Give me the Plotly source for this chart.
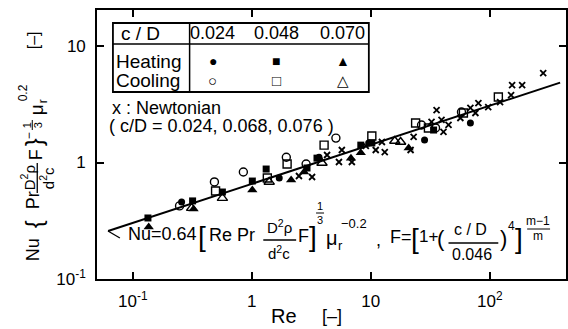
import plotly.graph_objects as go

# ---------------- data ----------------
heat_024_re = [0.257, 1.70, 3.67, 9.6, 28.3, 68.7]
heat_024_nu = [0.458, 0.736, 1.11, 1.47, 1.56, 2.18]

heat_048_re = [0.134, 0.318, 0.566, 1.01, 1.32, 2.91, 3.53, 8.24, 10.2, 33.7]
heat_048_nu = [0.334, 0.468, 0.558, 0.693, 0.879, 0.897, 1.09, 1.41, 1.47, 1.90]

heat_070_re = [0.136, 0.324, 1.01, 2.14, 2.75, 6.81, 8.24, 20.8]
heat_070_nu = [0.279, 0.399, 0.581, 0.708, 0.828, 1.09, 1.21, 1.33]

cool_024_re = [0.247, 0.485, 0.849, 1.95, 2.86, 5.09, 26.7, 35.0, 57.8]
cool_024_nu = [0.424, 0.681, 0.828, 1.11, 0.971, 1.62, 2.10, 1.98, 2.71]

cool_048_re = [0.496, 1.35, 1.98, 4.05, 10.2, 23.8, 30.5, 60.0, 118]
cool_048_nu = [0.569, 0.736, 0.971, 1.41, 1.69, 2.18, 1.98, 2.66, 3.65]

cool_070_re = [0.312, 0.566, 1.40, 3.89, 15.9, 17.8]
cool_070_nu = [0.406, 0.495, 0.681, 0.99, 1.53, 1.50]

newt_re = [2.49, 3.21, 4.29, 5.40, 5.71, 6.93, 9.08, 11.0, 12.4, 13.1, 21.6, 22.9,
           32.4, 35.7, 39.3, 40.8, 45.0, 56.6, 68.7, 75.7, 80.2, 97.0, 122, 151,
           154, 187, 281]
newt_nu = [0.766, 0.751, 1.16, 1.01, 1.28, 1.01, 1.39, 1.28, 1.50, 1.23, 1.28, 1.66,
           2.23, 2.82, 2.32, 1.83, 2.10, 2.41, 2.94, 2.66, 3.24, 2.99, 3.30, 3.79,
           4.62, 4.62, 5.86]

fit_re = [0.062, 390]
fit_nu = [0.258, 4.85]

x_tickvals = [0.1, 1, 10, 100]
x_ticktext = ["10<sup>-1</sup>", "1", "10", "10<sup>2</sup>"]
y_tickvals = [0.1, 1, 10]
y_ticktext = ["10<sup>-1</sup>", "1", "10"]

table_header = ["c / D", "0.024", "0.048", "0.070"]
row_labels = ["Heating", "Cooling"]
heat_symbols = ["●", "■", "▲"]
cool_symbols = ["○", "□", "△"]

# ---------------- layout geometry ----------------
W, H = 568, 329
L, R, T, B = 97, 0, 10, 50
PW, PH = W - L - R, H - T - B
FONT = "Liberation Sans"


def P(px, py):
    return (px - L) / PW, (H - B - py) / PH


fig = go.Figure()

fig.add_trace(go.Scatter(x=fit_re, y=fit_nu, mode="lines",
                         line=dict(color="black", width=2), showlegend=False))

def add_pts(xs, ys, symbol, size, lw=1.4):
    fig.add_trace(go.Scatter(
        x=xs, y=ys, mode="markers", showlegend=False,
        marker=dict(symbol=symbol, size=size, color="black",
                    line=dict(color="black", width=lw))))

add_pts(newt_re, newt_nu, "x-thin", 6, 1.8)
add_pts(cool_024_re, cool_024_nu, "circle-open", 8)
add_pts(cool_048_re, cool_048_nu, "square-open", 8)
add_pts(cool_070_re, cool_070_nu, "triangle-up-open", 9)
add_pts(heat_024_re, heat_024_nu, "circle", 7, 0)
add_pts(heat_048_re, heat_048_nu, "square", 7, 0)
add_pts(heat_070_re, heat_070_nu, "triangle-up", 9, 0)

ann = []
shapes = []


def txt(px, py, s, size=17, anchor="left", angle=0):
    x, y = P(px, py)
    ann.append(dict(x=x, y=y, xref="paper", yref="paper", text=s, showarrow=False,
                    xanchor=anchor, yanchor="middle", textangle=angle, borderpad=0,
                    font=dict(family=FONT, size=size, color="black")))


def seg(x0, y0, x1, y1, w=1.3):
    a, b = P(x0, y0)
    c, d = P(x1, y1)
    shapes.append(dict(type="line", xref="paper", yref="paper", x0=a, y0=b, x1=c, y1=d,
                       line=dict(color="black", width=w)))


# ---- table ----
a, b = P(113, 23)
c, d = P(370, 92)
shapes.append(dict(type="rect", xref="paper", yref="paper", x0=a, y0=d, x1=c, y1=b,
                   line=dict(color="black", width=1.8), fillcolor="white", layer="above"))
seg(113, 44, 370, 44, 1.5)
seg(190, 23, 190, 92, 1.5)
col_x = [152, 213, 277, 344]
txt(141, 33, table_header[0], 19, "center")
for i in range(1, 4):
    txt(col_x[i], 33, table_header[i], 18, "center")
txt(115, 61, row_labels[0], 19)
txt(115, 81, row_labels[1], 19)
for i in range(3):
    txt(col_x[i + 1], 61, heat_symbols[i], 14, "center")
    txt(col_x[i + 1], 81, cool_symbols[i], 15, "center")

txt(111, 108, "x : Newtonian", 18)
txt(108, 126, "( c/D = 0.024, 0.068, 0.076 )", 18)

# ---- correlation formula ----
seg(108, 231, 120, 238, 1.3)
txt(127, 234, "Nu=0.64", 18)
txt(197, 236, "[", 28)
txt(208, 235, "Re Pr", 18)
txt(280, 226, "D<sup>2</sup>ρ", 15, "center")
seg(264, 240, 297, 240)
txt(280, 252, "d<sup>2</sup>c", 15, "center")
txt(298, 236, "F", 18)
txt(309, 236, "]", 28)
txt(321, 206, "1", 11, "center")
seg(317, 213, 325, 213, 1)
txt(321, 220, "3", 11, "center")
txt(326, 238, "μ", 20)
txt(338, 246, "r", 13)
txt(341, 223, "−0.2", 13)
txt(376, 240, ",", 18)
txt(390, 237, "F=", 18)
txt(411, 238, "[", 28)
txt(419, 237, "1+", 17)
txt(437, 238, "(", 22)
txt(472, 229, "c / D", 16, "center")
seg(450, 243, 500, 243)
txt(474, 254, "0.046", 16, "center")
txt(501, 238, ")", 22)
txt(509, 226, "4", 12)
txt(516, 238, "]", 28)
txt(540, 221, "m−1", 12, "center")
seg(529, 229, 552, 229, 1)
txt(540, 236, "m", 12, "center")

# ---- axis titles ----
txt(271, 316, "Re", 20)
txt(322, 316, "[–]", 18)

txt(33, 250, "Nu", 18, "center", -90)
txt(33, 224, "{", 24, "center", -90)
txt(33, 200, "Pr", 18, "center", -90)
txt(27, 178, "D<sup>2</sup>ρ", 15, "center", -90)
seg(37, 163, 37, 193)
txt(46, 178, "d<sup>2</sup>c", 15, "center", -90)
txt(36, 155, "F", 18, "center", -90)
txt(33, 142, "}", 24, "center", -90)
txt(29, 136, "−", 12, "center", -90)
txt(27, 125, "1", 11, "center", -90)
seg(32, 120, 32, 130, 1)
txt(38, 125, "3", 11, "center", -90)
txt(36, 110, "μ", 19, "center", -90)
txt(43, 101, "r", 12, "center", -90)
txt(23, 93, "0.2", 12, "center", -90)
txt(33, 40, "[–]", 16, "center", -90)

axis_common = dict(type="log", showgrid=False, zeroline=False, showline=True,
                   linecolor="black", linewidth=1.6, mirror="ticks", ticks="inside",
                   ticklen=7, tickwidth=1.5, tickcolor="black",
                   tickfont=dict(family=FONT, size=17, color="black"))

fig.update_layout(
    width=W, height=H, margin=dict(l=L, r=R, t=T, b=B),
    paper_bgcolor="white", plot_bgcolor="white",
    xaxis=dict(range=[-1.301, -1.301 + PW / 119.5], tickvals=x_tickvals,
               ticktext=x_ticktext, ticklabelstandoff=6, **axis_common),
    yaxis=dict(range=[-1, -1 + PH / 116.5], tickvals=y_tickvals,
               ticktext=y_ticktext, ticklabelstandoff=6, **axis_common),
    annotations=ann, shapes=shapes, showlegend=False,
)

fig.write_html("out.html", config={"displayModeBar": False},
               post_script="document.body.style.margin='0';document.body.style.padding='0';")
